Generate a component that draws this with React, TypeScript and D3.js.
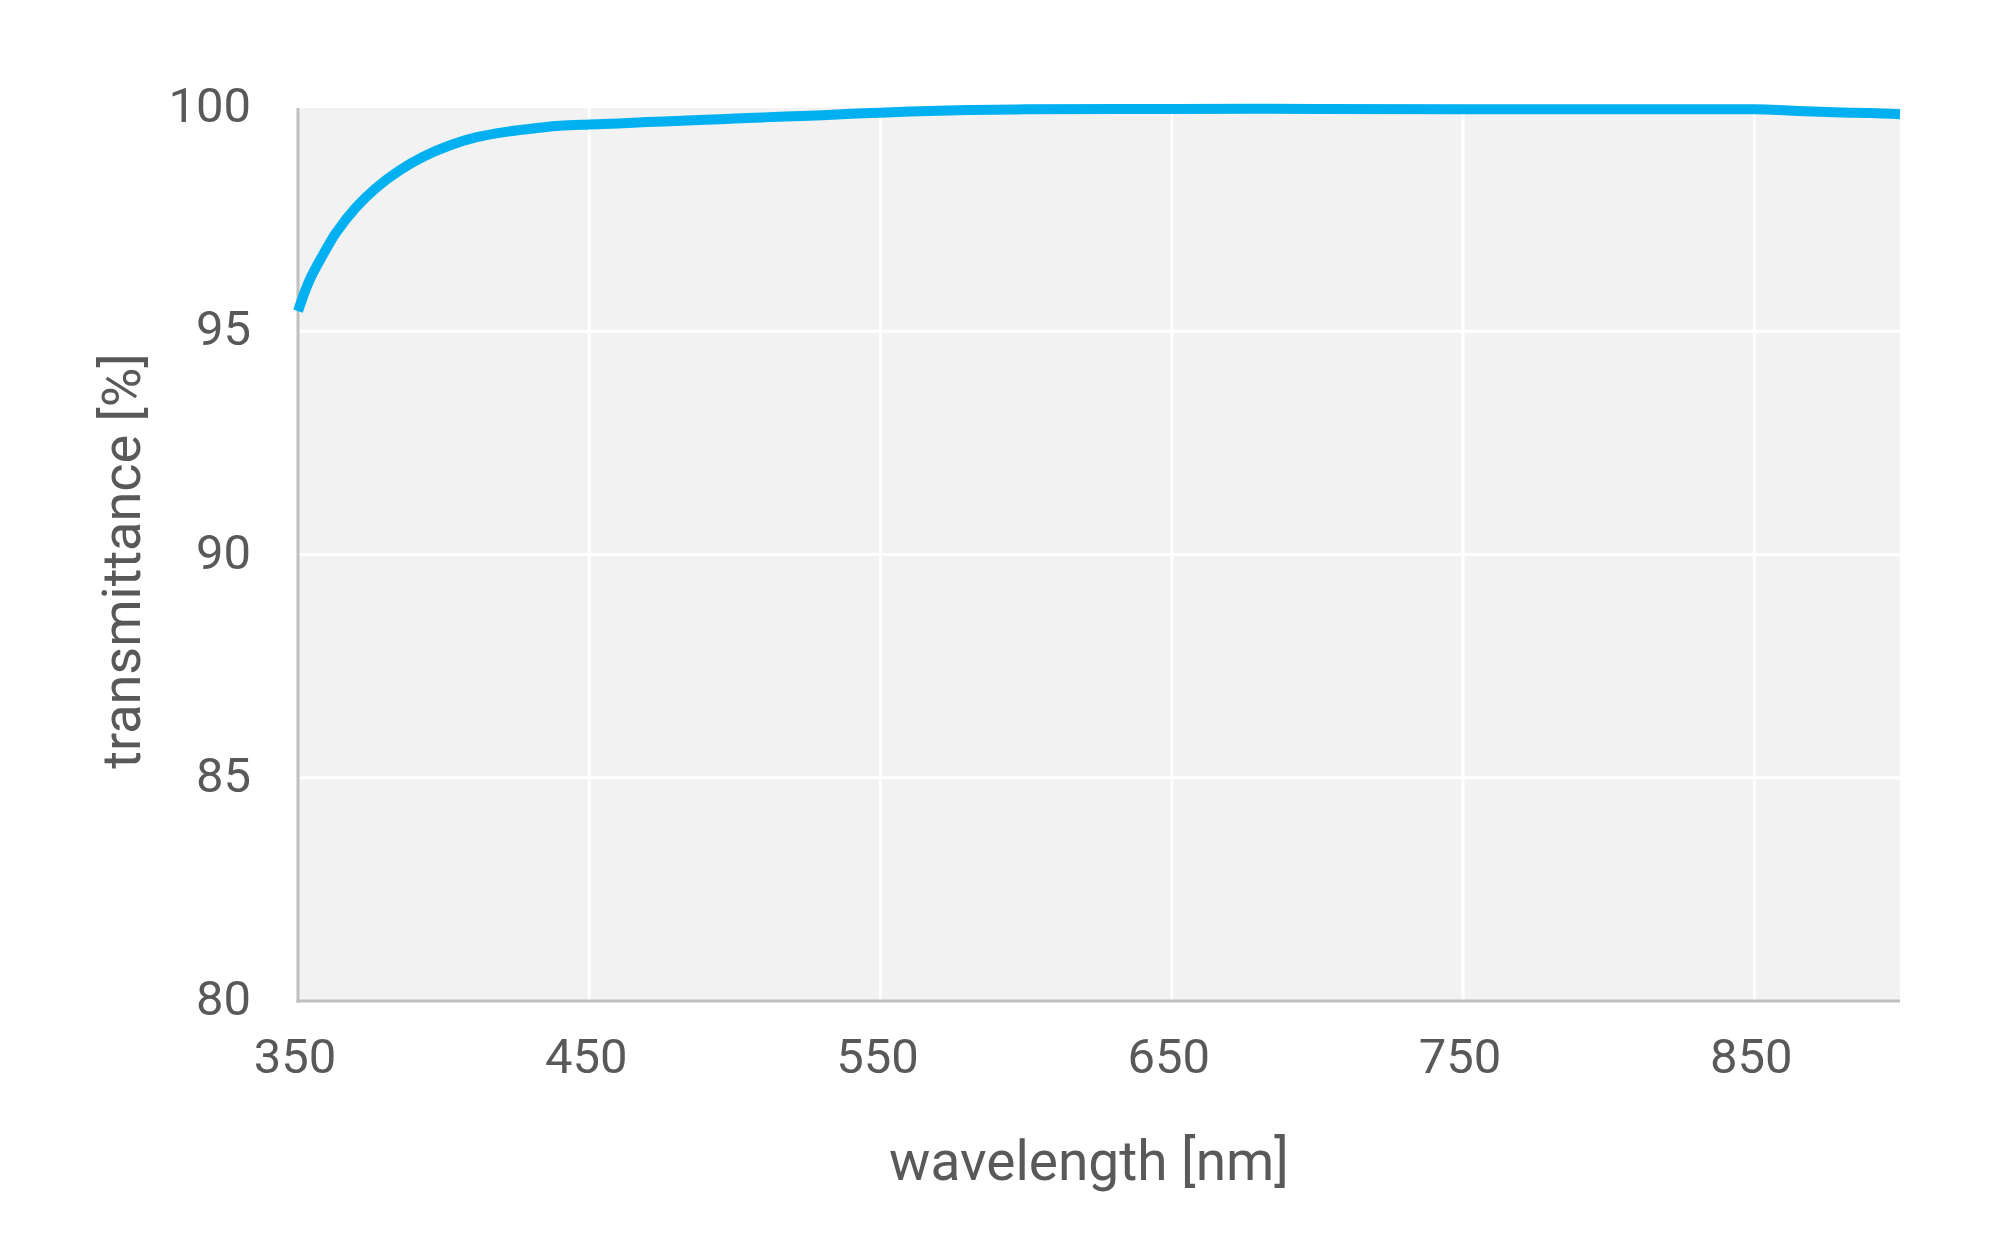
import { line, curveCatmullRom, scaleLinear } from 'd3';

const wavelengths = [
  350, 354, 359, 363, 370, 377, 385, 393, 402, 411, 422, 432, 440, 450, 460, 470, 480, 490, 500,
  510, 520, 530, 540, 550, 560, 570, 580, 600, 650, 700, 750, 800, 850, 860, 870, 880, 890, 900,
];
const transmittance = [
  95.45, 96.15, 96.76, 97.2, 97.78, 98.22, 98.61, 98.91, 99.16, 99.34, 99.47, 99.55, 99.6, 99.63,
  99.655, 99.685, 99.71, 99.735, 99.765, 99.79, 99.815, 99.84, 99.87, 99.895, 99.92, 99.94, 99.955,
  99.97, 99.98, 99.98, 99.97, 99.97, 99.97, 99.95, 99.92, 99.9, 99.89, 99.86,
];
const xTicks = [350, 450, 550, 650, 750, 850];
const yTicks = [80, 85, 90, 95, 100];

const width = 2000;
const height = 1250;
const margin = { top: 108, right: 100, bottom: 249, left: 298 };
const textColor = '#595959';
const font = 'Roboto, "Noto Sans", sans-serif';

export default function App() {
  const x = scaleLinear().domain([350, 900]).range([margin.left, width - margin.right]);
  const y = scaleLinear().domain([80, 100]).range([height - margin.bottom, margin.top]);
  const points = wavelengths.map((w, i) => [w, transmittance[i]] as [number, number]);
  const path = line<[number, number]>()
    .x((d) => x(d[0]))
    .y((d) => y(d[1]))
    .curve(curveCatmullRom.alpha(0.5))(points);

  const [x0, x1] = x.range();
  const [yBottom, yTop] = y.range();

  return (
    <div style={{ position: 'absolute', left: 0, top: 0 }}>
      <svg width={width} height={height} style={{ display: 'block', background: '#fff' }}>
        <rect x={x0} y={yTop} width={x1 - x0} height={yBottom - yTop} fill="#f2f2f2" />
        {xTicks.slice(1).map((t) => (
          <line key={`gx${t}`} x1={x(t)} x2={x(t)} y1={yTop} y2={yBottom} stroke="#fff" strokeWidth={3} />
        ))}
        {yTicks.slice(1, -1).map((t) => (
          <line key={`gy${t}`} x1={x0} x2={x1} y1={y(t)} y2={y(t)} stroke="#fff" strokeWidth={3} />
        ))}
        <line x1={x0} x2={x0} y1={yTop} y2={yBottom + 1.5} stroke="#bfbfbf" strokeWidth={3} />
        <line x1={x0 - 1.5} x2={x1} y1={yBottom} y2={yBottom} stroke="#bfbfbf" strokeWidth={3} />
        <path d={path ?? ''} fill="none" stroke="#00b0f0" strokeWidth={10} strokeLinejoin="round" />
        {yTicks.map((t) => (
          <text key={`ly${t}`} x={251} y={y(t) + 14} textAnchor="end" fontFamily={font} fontSize={49} fill={textColor}>
            {t}
          </text>
        ))}
        {xTicks.map((t) => (
          <text key={`lx${t}`} x={x(t) - 3} y={1073} textAnchor="middle" fontFamily={font} fontSize={49} fill={textColor}>
            {t}
          </text>
        ))}
        <text x={1089} y={1180} textAnchor="middle" fontFamily={font} fontSize={55} fill={textColor}>
          wavelength [nm]
        </text>
        <text
          transform={`translate(140, 561) rotate(-90)`}
          textAnchor="middle"
          fontFamily={font}
          fontSize={54}
          fill={textColor}
        >
          transmittance [%]
        </text>
      </svg>
    </div>
  );
}
